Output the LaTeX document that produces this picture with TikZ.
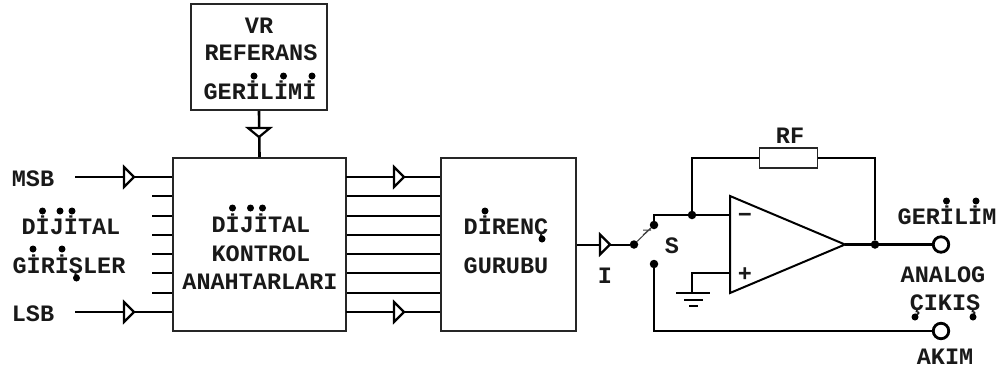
\documentclass[tikz,border=0pt]{standalone}
\usepackage{fontspec}
\setmainfont{Liberation Mono}
\newcommand{\opentip}[2]{\draw[tipline,shift={(#1)},rotate=#2] (0,-10) -- (10,0) -- (0,10) -- cycle;}
\tikzset{
  boxn/.style={draw=black!85,line width=1.8bp,fill=white,inner sep=0pt},
  wire/.style={draw=black,line width=2.6bp},
  thinw/.style={draw=black,line width=2bp},
  tipline/.style={draw=black,line width=2.2bp,fill=white,line join=miter},
  lbl/.style={anchor=base,inner sep=0pt,font=\bfseries\fontsize{23.5bp}{24bp}\selectfont,text=black!90},
  dotn/.style={circle,fill=black,inner sep=0pt,minimum size=8.5bp},
  glyphdot/.style={circle,fill=black,inner sep=0pt,minimum size=7bp},
  term/.style={circle,draw=black,line width=2.8bp,fill=white,inner sep=0pt,minimum size=15.5bp},
}
\begin{document}
\begin{tikzpicture}[x=1bp,y=-1bp]
\useasboundingbox (0,0) rectangle (1004,369);
% blocks
\node[boxn,minimum width=136bp,minimum height=106bp] (vr) at (259,57) {};
\node[boxn,minimum width=173bp,minimum height=173bp] (dig) at (259.5,244.5) {};
\node[boxn,minimum width=135bp,minimum height=173bp] (res) at (508.5,244.5) {};
% reference feed
\draw[wire] (vr.south) -- (dig.north);
\coordinate (vrt) at (259,128);
\draw[tipline,shift={(vrt)}] (-11,0) -- (11,0) -- (0,9) -- cycle;
% inputs
\coordinate (msb) at (75,177);
\coordinate (lsb) at (75,312);
\draw[wire] (msb) -- (msb -| dig.west);
\draw[wire] (lsb) -- (lsb -| dig.west);
\foreach \yy/\nm in {196/a,216/b,235/c,254/d,273/e,293/f}{
  \coordinate (in\nm) at (152,\yy);
  \draw[thinw] (in\nm) -- (in\nm -| dig.west);
  \draw[thinw] (in\nm -| dig.east) -- (in\nm -| res.west);
}
\coordinate (om) at (346,177);
\coordinate (ol) at (346,312);
\draw[wire] (om) -- (om -| res.west);
\draw[wire] (ol) -- (ol -| res.west);
\coordinate (t1) at (124,177);
\coordinate (t2) at (124,312);
\coordinate (t3) at (394,177);
\coordinate (t4) at (394,312);
\opentip{t1}{0}\opentip{t2}{0}\opentip{t3}{0}\opentip{t4}{0}
% switch
\node[dotn] (sw) at (634,244.5) {};
\node[dotn] (up) at (654,225) {};
\node[dotn] (lo) at (654,264) {};
\draw[thinw] (res.east |- sw) -- (sw);
\coordinate (t5) at (600,244.5);
\opentip{t5}{0}
\draw[draw=black!75,line width=1bp] (sw) -- (up);
\coordinate (swm) at (647,232);
\draw[draw=black!75,line width=1bp,shift={(swm)}] (-4,-2) -- (4,-2) (-4,3) -- (4,-4);
% op amp
\coordinate (oa) at (730,196);
\coordinate (ob) at (730,293);
\coordinate (oc) at (845,244.5);
\coordinate (inm) at (730,215);
\coordinate (inp) at (730,273);
\draw[draw=black,line width=2bp,line join=miter] (oa) -- (ob) -- (oc) -- cycle;
\coordinate (upt) at (654,215);
\node[dotn] (j1) at (692,215) {};
\node[dotn] (j2) at (875,244.5) {};
\node[term] (tv) at (941,244.5) {};
\node[term] (ti) at (941,331) {};
\draw[wire] (up) -- (upt) -- (inm);
\node[draw=black!85,line width=1.8bp,fill=white,inner sep=0pt,minimum width=58bp,minimum height=20bp] (rf) at (788.5,158) {};
\draw[wire] (j1) |- (rf.west);
\draw[wire] (rf.east) -| (j2);
\draw[wire] (oc) -- (tv);
\draw[wire] (lo) |- (ti);
% ground
\coordinate (gnd) at (692,293);
\coordinate (g1a) at (676,293);\coordinate (g1b) at (710,293);
\coordinate (g2a) at (684,300);\coordinate (g2b) at (703,300);
\coordinate (g3a) at (689,306);\coordinate (g3b) at (698,306);
\draw[wire] (inp) -- (inp -| gnd) -- (gnd);
\draw[wire] (g1a) -- (g1b);
\draw[wire] (g2a) -- (g2b);
\draw[wire] (g3a) -- (g3b);
% labels
\node[lbl] (l1) at (259,33) {VR};
\node[lbl] (l2) at (261,60.5) {REFERANS};
\node[lbl] (l3) at (260,99) {GERİLİMİ};
\node[lbl] (l4) at (33,186) {MSB};
\node[lbl] (l5) at (71,234) {DİJİTAL};
\node[lbl] (l6) at (69,273) {GİRİŞLER};
\node[lbl] (l7) at (33,321) {LSB};
\node[lbl] (l8) at (261,232) {DİJİTAL};
\node[lbl] (l9) at (261,261) {KONTROL};
\node[lbl] (l10) at (260,289) {ANAHTARLARI};
\node[lbl] (l11) at (506,234) {DİRENÇ};
\node[lbl] (l12) at (506,273) {GURUBU};
\node[lbl] (l13) at (790,143) {RF};
\node[lbl] (l14) at (605,283) {I};
\node[lbl] (l15) at (672,253) {S};
\node[lbl] (l16) at (947,224) {GERİLİM};
\node[lbl] (l17) at (943,282) {ANALOG};
\node[lbl] (l18) at (945,310) {ÇIKIŞ};
\node[lbl] (l19) at (945,364) {AKIM};
\node[lbl] (lm) at (745,222) {−};
\node[lbl] (lp) at (745,281) {+};
% heavy diacritic dots of the lettering
\foreach \dx/\dy in {254/76,283.5/76,312/76,42.5/211,60/211,72/211,33/249,62/249,76.5/278,232.5/208,250.5/208,262.5/208,485/211,542/239,946.5/201,976/201,915/317,973/317}{
  \node[glyphdot] at (\dx,\dy) {};
}
\end{tikzpicture}
\end{document}
